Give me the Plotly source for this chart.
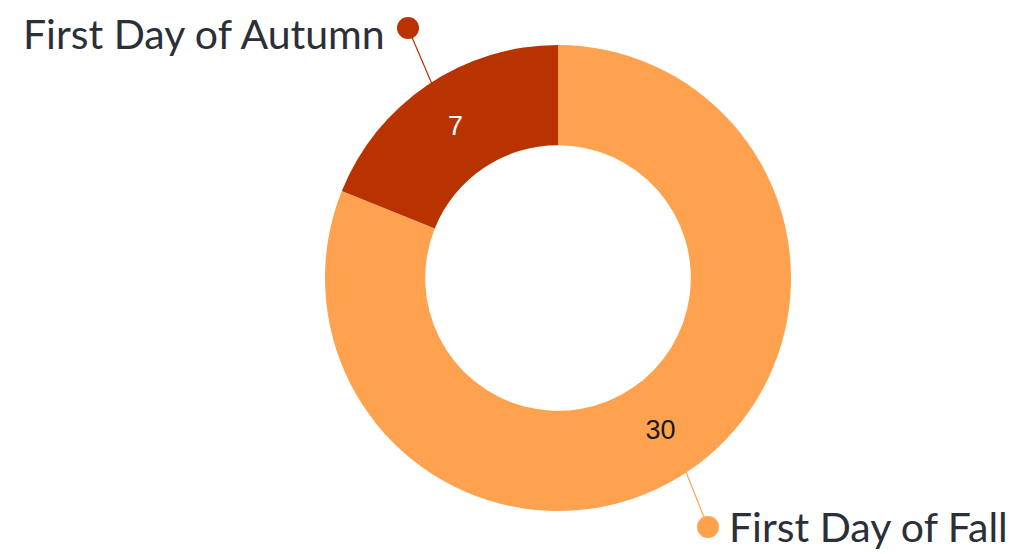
import plotly.graph_objects as go

categories = ["First Day of Fall", "First Day of Autumn"]
values = [30, 7]
colors = ["#FFA24F", "#B83300"]
text_colors = ["#1a1a1a", "#ffffff"]

W, H = 1025, 554
OFF = 8  # page body margin

def px(x):
    return (x - OFF) / W

def py(y):
    return 1 - (y - OFF) / H

cx, cy, R = 558, 278, 233

fig = go.Figure(go.Pie(
    labels=categories,
    values=values,
    sort=False,
    direction="clockwise",
    rotation=0,
    hole=0.57,
    marker=dict(colors=colors, line=dict(width=0)),
    textinfo="value",
    textposition="inside",
    insidetextorientation="horizontal",
    insidetextfont=dict(family="Liberation Sans, Arial", size=27, color=text_colors),
    domain=dict(x=[px(cx - R), px(cx + R)], y=[py(cy + R), py(cy - R)]),
    showlegend=False,
    hoverinfo="label+value",
))

label_font = dict(family="Lato, Noto Sans, sans-serif", size=41, color="#2b2f38")

shapes = []
# Autumn leader
shapes.append(dict(type="line", xref="paper", yref="paper",
                   x0=px(408), y0=py(28), x1=px(432), y1=py(84),
                   line=dict(color=colors[1], width=1.2)))
shapes.append(dict(type="circle", xref="paper", yref="paper",
                   x0=px(397), y0=py(17), x1=px(419), y1=py(39),
                   fillcolor=colors[1], line=dict(width=0)))
# Fall leader
shapes.append(dict(type="line", xref="paper", yref="paper",
                   x0=px(686), y0=py(472), x1=px(708), y1=py(527),
                   line=dict(color=colors[0], width=1.2)))
shapes.append(dict(type="circle", xref="paper", yref="paper",
                   x0=px(697), y0=py(516), x1=px(719), y1=py(538),
                   fillcolor=colors[0], line=dict(width=0)))

annotations = [
    dict(text=categories[1], x=px(386), y=py(8), xref="paper", yref="paper",
         xanchor="right", yanchor="top", showarrow=False, font=label_font,
         borderpad=0),
    dict(text=categories[0], x=px(727), y=py(526), xref="paper", yref="paper",
         xanchor="left", yanchor="middle", showarrow=False, font=label_font),
]

fig.update_layout(
    width=W, height=H,
    margin=dict(l=0, r=0, t=0, b=0),
    paper_bgcolor="white",
    plot_bgcolor="white",
    shapes=shapes,
    annotations=annotations,
)

fig.write_html("out.html")
